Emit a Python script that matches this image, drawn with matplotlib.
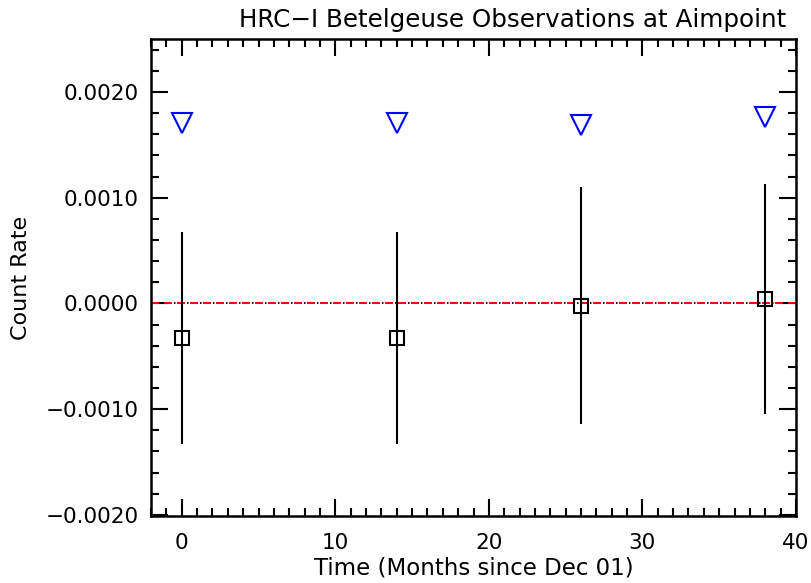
import matplotlib
matplotlib.use("Agg")
import matplotlib.pyplot as plt
from matplotlib.ticker import MultipleLocator, FuncFormatter

# months since Dec 01
months = [0, 14, 26, 38]
# measured count rate and 1-sigma error
rate = [-0.000325, -0.000325, -0.00002, 0.00004]
rate_err = [0.001, 0.001, 0.00112, 0.00109]
# upper limits (blue triangles)
upper_lim = [0.00171, 0.00171, 0.00169, 0.00176]

plt.rcParams['font.family'] = ['DejaVu Sans']
plt.rcParams['lines.scale_dashes'] = False

fig = plt.figure(figsize=(8.11, 5.83), dpi=100)
ax = fig.add_axes([0.1862, 0.1149, 0.7953, 0.8182])

# zero line: red dashes with black dots in the gaps
ax.axhline(0, color='black', lw=1.3, linestyle=(2.16, (1.08, 8.28)), zorder=1)
ax.axhline(0, color='red', lw=1.4, linestyle=(0, (5.76, 3.6)), zorder=2)

ax.errorbar(months, rate, yerr=rate_err, fmt='none', ecolor='black',
            elinewidth=1.5, capsize=0, zorder=3)
ax.plot(months, rate, 's', ms=10.5, mfc='none', mec='black', mew=1.5, zorder=4)
ax.plot(months, upper_lim, 'v', ms=14, mfc='none', mec='blue', mew=1.5, zorder=4)

ax.set_xlim(-2, 40)
ax.set_ylim(-0.00201, 0.0025)
ax.xaxis.set_major_locator(MultipleLocator(10))
ax.xaxis.set_minor_locator(MultipleLocator(1))
ax.yaxis.set_major_locator(MultipleLocator(0.001))
ax.yaxis.set_minor_locator(MultipleLocator(0.0002))
ax.yaxis.set_major_formatter(FuncFormatter(lambda v, p: ('%.4f' % v).replace('-', '\u2212')))
ax.xaxis.set_major_formatter(FuncFormatter(lambda v, p: '%d' % v))

ax.tick_params(which='both', direction='in', top=True, right=True,
               labelsize=15.5, width=1.5)
ax.tick_params(axis='x', pad=12)
ax.tick_params(axis='y', pad=9)
ax.tick_params(which='major', length=12)
ax.tick_params(which='minor', length=6)
for s in ax.spines.values():
    s.set_linewidth(1.8)

ax.set_title('HRC\u2212I Betelgeuse Observations at Aimpoint', fontsize=17.7,
             x=0.56, pad=9)
ax.set_xlabel('Time (Months since Dec 01)', fontsize=16.5, labelpad=3)
ax.set_ylabel('Count Rate', fontsize=16)
ax.yaxis.set_label_coords(-0.186, 0.5)

fig.savefig('out.png', dpi=100)
